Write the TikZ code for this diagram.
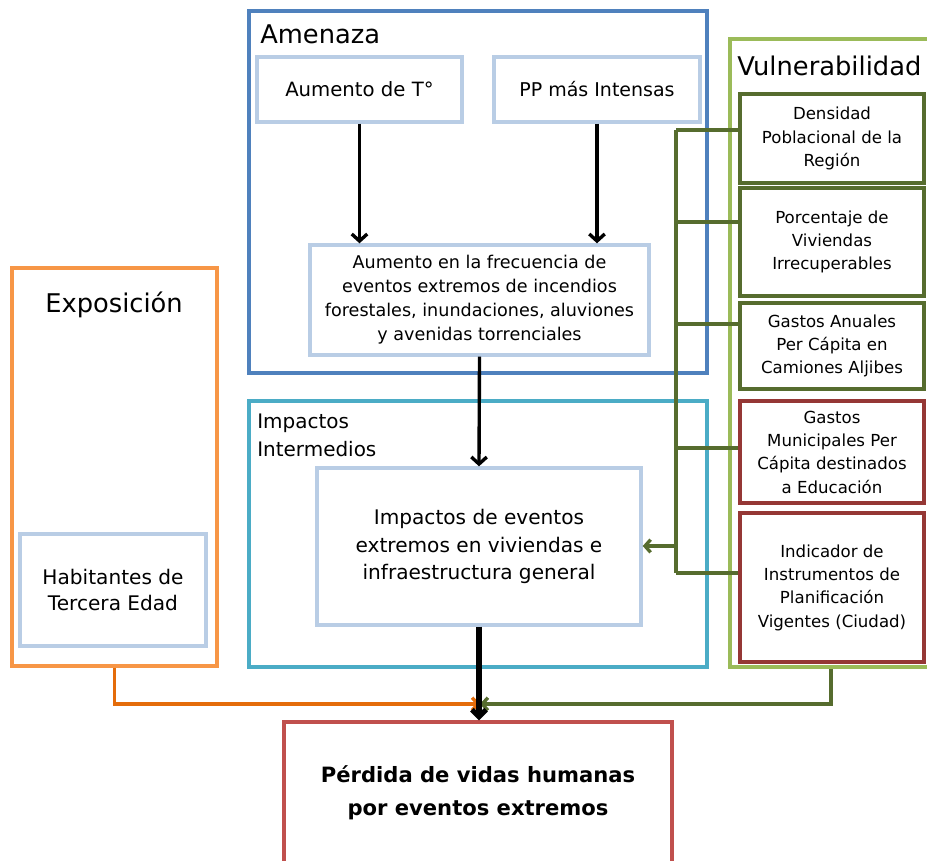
\documentclass[tikz,border=0pt]{standalone}
\usepackage{fontspec}
\setmainfont{DejaVu Sans}
\usetikzlibrary{arrows.meta, positioning, calc}
\definecolor{amenazablue}{HTML}{4F81BD}
\definecolor{impactcyan}{HTML}{4BACC6}
\definecolor{vulngreen}{HTML}{9BBB59}
\definecolor{darkgreen}{HTML}{566C2E}
\definecolor{darkred}{HTML}{953735}
\definecolor{lossred}{HTML}{C0504D}
\definecolor{expoorange}{HTML}{F79646}
\definecolor{arroworange}{HTML}{E46C0A}
\definecolor{paleblue}{HTML}{B9CDE5}

\begin{document}
\begin{tikzpicture}[x=0.025cm, y=-0.025cm,
    group/.style={draw, line width=2.6pt, inner sep=0pt},
    inbox/.style={draw=paleblue, line width=2.4pt, align=center, inner sep=0pt},
    vbox/.style={draw=darkgreen, line width=2.4pt, align=center, inner sep=0pt,
        minimum width=4.6cm, font=\fontsize{11.8}{16.6}\selectfont},
    rbox/.style={vbox, draw=darkred},
    grouptitle/.style={font=\fontsize{18.3}{22}\selectfont, inner sep=0pt},
    blackarrow/.style={line width=2.4pt, -{Straight Barb[length=5pt, width=11pt]}},
    greenline/.style={draw=darkgreen, line width=2.4pt},
    greenarrow/.style={greenline, -{Straight Barb[length=4pt, width=9pt]}},
    orangearrow/.style={draw=arroworange, line width=2.4pt, -{Straight Barb[length=4pt, width=9pt]}}]

    \useasboundingbox (0,0) rectangle (927,861);

    % amenaza
    \node (amenaza) [group, draw=amenazablue, minimum width=11.45cm, minimum height=9.05cm] at (478,192) {};
    \node (amenazatitle) [grouptitle, anchor=base west] at (260,44) {Amenaza};
    \node (tempbox) [inbox, minimum width=5.125cm, minimum height=1.625cm, font=\fontsize{14}{19}\selectfont] at (359.5,89.5) {Aumento de T°};
    \node (ppbox) [inbox, minimum width=5.15cm, minimum height=1.625cm, font=\fontsize{13.5}{19}\selectfont] at (597,89.5) {PP más Intensas};
    \node (freqbox) [inbox, minimum width=8.475cm, minimum height=2.75cm, font=\fontsize{12.5}{17}\selectfont] at (479.5,300)
        {Aumento en la frecuencia de\\eventos extremos de incendios\\forestales, inundaciones, aluviones\\y avenidas torrenciales};

    \draw [blackarrow] (tempbox.south) -- (tempbox.south |- freqbox.north);
    \draw [blackarrow] (ppbox.south) -- (ppbox.south |- freqbox.north);

    % impactos intermedios
    \node (impint) [group, draw=impactcyan, minimum width=11.45cm, minimum height=6.65cm] at (478,534) {};
    \node (impinttitle) [inner sep=0pt, anchor=base west, align=left, font=\fontsize{14.2}{19.9}\selectfont] at (257,456) {Impactos\\Intermedios};
    \node (impbox) [inbox, minimum width=8.1cm, minimum height=3.925cm, font=\fontsize{14.3}{19.6}\selectfont] at (479,546.5)
        {Impactos de eventos\\extremos en viviendas e\\infraestructura general};

    \draw [blackarrow] (freqbox.south) -- (impbox.north);

    % exposicion
    \node (expo) [group, draw=expoorange, minimum width=5.125cm, minimum height=9.95cm] at (114.5,467) {};
    \node (expotitle) [grouptitle, anchor=base] at (114,312) {Exposición};
    \node (habit) [inbox, minimum width=4.65cm, minimum height=2.8cm, font=\fontsize{14.3}{19}\selectfont] at (113,590)
        {Habitantes de\\Tercera Edad};

    % vulnerabilidad
    \node (vuln) [group, draw=vulngreen, minimum width=5.05cm, minimum height=15.7cm] at (831,353) {};
    \node (vulntitle) [grouptitle, anchor=base west] at (737,75) {Vulnerabilidad};
    \node (v1) [vbox, minimum height=2.225cm] at (832,138.5) {Densidad\\Poblacional de la\\Región};
    \node (v2) [vbox, minimum height=2.7cm] at (832,242) {Porcentaje de\\Viviendas\\Irrecuperables};
    \node (v3) [vbox, minimum height=2.15cm] at (832,346) {Gastos Anuales\\Per Cápita en\\Camiones Aljibes};
    \node (v4) [rbox, minimum height=2.55cm] at (832,452) {Gastos\\Municipales Per\\Cápita destinados\\a Educación};
    \node (v5) [rbox, minimum height=3.725cm] at (832,587.5) {Indicador de\\Instrumentos de\\Planificación\\Vigentes (Ciudad)};

    \coordinate (b1) at (676,130);
    \coordinate (b2) at (676,222);
    \coordinate (b3) at (676,324);
    \coordinate (b4) at (676,448);
    \coordinate (b5) at (676,573);
    \coordinate (b0) at (676,546);
    \draw [greenline] (b1) -- (b5);
    \foreach \i in {1,...,5}
        \draw [greenline] (b\i) -- (b\i -| v\i.west);
    \draw [greenarrow] (b0) -- (b0 -| impbox.east);

    % perdida
    \node (perdida) [draw=lossred, line width=2.4pt, align=center, minimum width=9.7cm, minimum height=3.55cm,
        font=\fontsize{15}{23.5}\selectfont\bfseries] at (478,793)
        {Pérdida de vidas humanas\\por eventos extremos};

    \coordinate (meet) at (480,704);
    \draw [orangearrow] (expo.south) |- (meet);
    \draw [greenarrow] (vuln.south) |- (meet);
    \draw [line width=3.6pt, -{Straight Barb[length=5pt, width=10pt]}] (impbox.south) -- (impbox.south |- perdida.north);
\end{tikzpicture}
\end{document}
